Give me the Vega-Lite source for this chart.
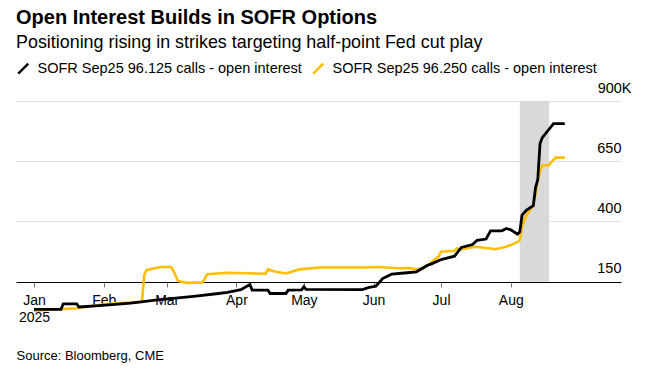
{
  "$schema": "https://vega.github.io/schema/vega-lite/v6.json",
  "width": 605,
  "height": 212,
  "padding": {"left": 16, "top": 8, "right": 5, "bottom": 5},
  "autosize": {"type": "pad"},
  "background": "white",
  "config": {"view": {"stroke": null}, "font": "Liberation Sans"},
  "title": {
    "text": "Open Interest Builds in SOFR Options",
    "subtitle": "Positioning rising in strikes targeting half-point Fed cut play",
    "anchor": "start",
    "frame": "group",
    "font": "Liberation Sans",
    "fontSize": 20,
    "fontWeight": "bold",
    "color": "#000000",
    "subtitleFont": "Liberation Sans",
    "subtitleFontSize": 17.9,
    "subtitleColor": "#000000",
    "subtitlePadding": 6,
    "offset": 9
  },
  "datasets": {
    "shade": [{"start": "2025-08-05", "end": "2025-08-18"}],
    "oi": [
      {"series": "SOFR Sep25 96.250 calls - open interest", "date": "2025-01-01", "value": 30},
      {"series": "SOFR Sep25 96.250 calls - open interest", "date": "2025-01-20", "value": 40},
      {"series": "SOFR Sep25 96.250 calls - open interest", "date": "2025-02-03", "value": 58},
      {"series": "SOFR Sep25 96.250 calls - open interest", "date": "2025-02-18", "value": 66},
      {"series": "SOFR Sep25 96.250 calls - open interest", "date": "2025-02-19", "value": 177},
      {"series": "SOFR Sep25 96.250 calls - open interest", "date": "2025-02-20", "value": 198},
      {"series": "SOFR Sep25 96.250 calls - open interest", "date": "2025-02-24", "value": 207},
      {"series": "SOFR Sep25 96.250 calls - open interest", "date": "2025-02-27", "value": 211},
      {"series": "SOFR Sep25 96.250 calls - open interest", "date": "2025-03-03", "value": 211},
      {"series": "SOFR Sep25 96.250 calls - open interest", "date": "2025-03-04", "value": 195},
      {"series": "SOFR Sep25 96.250 calls - open interest", "date": "2025-03-06", "value": 153},
      {"series": "SOFR Sep25 96.250 calls - open interest", "date": "2025-03-10", "value": 145},
      {"series": "SOFR Sep25 96.250 calls - open interest", "date": "2025-03-17", "value": 147},
      {"series": "SOFR Sep25 96.250 calls - open interest", "date": "2025-03-19", "value": 181},
      {"series": "SOFR Sep25 96.250 calls - open interest", "date": "2025-03-28", "value": 187},
      {"series": "SOFR Sep25 96.250 calls - open interest", "date": "2025-04-14", "value": 183},
      {"series": "SOFR Sep25 96.250 calls - open interest", "date": "2025-04-15", "value": 201},
      {"series": "SOFR Sep25 96.250 calls - open interest", "date": "2025-04-18", "value": 192},
      {"series": "SOFR Sep25 96.250 calls - open interest", "date": "2025-04-23", "value": 184},
      {"series": "SOFR Sep25 96.250 calls - open interest", "date": "2025-04-29", "value": 201},
      {"series": "SOFR Sep25 96.250 calls - open interest", "date": "2025-05-08", "value": 209},
      {"series": "SOFR Sep25 96.250 calls - open interest", "date": "2025-05-13", "value": 209},
      {"series": "SOFR Sep25 96.250 calls - open interest", "date": "2025-05-27", "value": 209},
      {"series": "SOFR Sep25 96.250 calls - open interest", "date": "2025-06-03", "value": 211},
      {"series": "SOFR Sep25 96.250 calls - open interest", "date": "2025-06-12", "value": 206},
      {"series": "SOFR Sep25 96.250 calls - open interest", "date": "2025-06-17", "value": 207},
      {"series": "SOFR Sep25 96.250 calls - open interest", "date": "2025-06-20", "value": 201},
      {"series": "SOFR Sep25 96.250 calls - open interest", "date": "2025-06-23", "value": 205},
      {"series": "SOFR Sep25 96.250 calls - open interest", "date": "2025-06-26", "value": 225},
      {"series": "SOFR Sep25 96.250 calls - open interest", "date": "2025-06-30", "value": 255},
      {"series": "SOFR Sep25 96.250 calls - open interest", "date": "2025-07-01", "value": 274},
      {"series": "SOFR Sep25 96.250 calls - open interest", "date": "2025-07-07", "value": 278},
      {"series": "SOFR Sep25 96.250 calls - open interest", "date": "2025-07-08", "value": 288},
      {"series": "SOFR Sep25 96.250 calls - open interest", "date": "2025-07-10", "value": 284},
      {"series": "SOFR Sep25 96.250 calls - open interest", "date": "2025-07-16", "value": 295},
      {"series": "SOFR Sep25 96.250 calls - open interest", "date": "2025-07-21", "value": 290},
      {"series": "SOFR Sep25 96.250 calls - open interest", "date": "2025-07-25", "value": 285},
      {"series": "SOFR Sep25 96.250 calls - open interest", "date": "2025-07-29", "value": 293},
      {"series": "SOFR Sep25 96.250 calls - open interest", "date": "2025-08-01", "value": 302},
      {"series": "SOFR Sep25 96.250 calls - open interest", "date": "2025-08-04", "value": 315},
      {"series": "SOFR Sep25 96.250 calls - open interest", "date": "2025-08-05", "value": 322},
      {"series": "SOFR Sep25 96.250 calls - open interest", "date": "2025-08-06", "value": 377},
      {"series": "SOFR Sep25 96.250 calls - open interest", "date": "2025-08-07", "value": 405},
      {"series": "SOFR Sep25 96.250 calls - open interest", "date": "2025-08-08", "value": 426},
      {"series": "SOFR Sep25 96.250 calls - open interest", "date": "2025-08-11", "value": 467},
      {"series": "SOFR Sep25 96.250 calls - open interest", "date": "2025-08-12", "value": 515},
      {"series": "SOFR Sep25 96.250 calls - open interest", "date": "2025-08-13", "value": 571},
      {"series": "SOFR Sep25 96.250 calls - open interest", "date": "2025-08-14", "value": 609},
      {"series": "SOFR Sep25 96.250 calls - open interest", "date": "2025-08-15", "value": 633},
      {"series": "SOFR Sep25 96.250 calls - open interest", "date": "2025-08-18", "value": 633},
      {"series": "SOFR Sep25 96.250 calls - open interest", "date": "2025-08-19", "value": 646},
      {"series": "SOFR Sep25 96.250 calls - open interest", "date": "2025-08-21", "value": 665},
      {"series": "SOFR Sep25 96.250 calls - open interest", "date": "2025-08-25", "value": 665},
      {"series": "SOFR Sep25 96.125 calls - open interest", "date": "2025-01-01", "value": 35},
      {"series": "SOFR Sep25 96.125 calls - open interest", "date": "2025-01-13", "value": 35},
      {"series": "SOFR Sep25 96.125 calls - open interest", "date": "2025-01-14", "value": 58},
      {"series": "SOFR Sep25 96.125 calls - open interest", "date": "2025-01-20", "value": 58},
      {"series": "SOFR Sep25 96.125 calls - open interest", "date": "2025-01-21", "value": 45},
      {"series": "SOFR Sep25 96.125 calls - open interest", "date": "2025-01-30", "value": 51},
      {"series": "SOFR Sep25 96.125 calls - open interest", "date": "2025-02-13", "value": 61},
      {"series": "SOFR Sep25 96.125 calls - open interest", "date": "2025-02-24", "value": 73},
      {"series": "SOFR Sep25 96.125 calls - open interest", "date": "2025-03-14", "value": 90},
      {"series": "SOFR Sep25 96.125 calls - open interest", "date": "2025-03-24", "value": 101},
      {"series": "SOFR Sep25 96.125 calls - open interest", "date": "2025-03-28", "value": 106},
      {"series": "SOFR Sep25 96.125 calls - open interest", "date": "2025-04-03", "value": 117},
      {"series": "SOFR Sep25 96.125 calls - open interest", "date": "2025-04-07", "value": 138},
      {"series": "SOFR Sep25 96.125 calls - open interest", "date": "2025-04-08", "value": 115},
      {"series": "SOFR Sep25 96.125 calls - open interest", "date": "2025-04-15", "value": 115},
      {"series": "SOFR Sep25 96.125 calls - open interest", "date": "2025-04-16", "value": 101},
      {"series": "SOFR Sep25 96.125 calls - open interest", "date": "2025-04-23", "value": 101},
      {"series": "SOFR Sep25 96.125 calls - open interest", "date": "2025-04-24", "value": 115},
      {"series": "SOFR Sep25 96.125 calls - open interest", "date": "2025-04-30", "value": 116},
      {"series": "SOFR Sep25 96.125 calls - open interest", "date": "2025-05-01", "value": 129},
      {"series": "SOFR Sep25 96.125 calls - open interest", "date": "2025-05-02", "value": 118},
      {"series": "SOFR Sep25 96.125 calls - open interest", "date": "2025-05-27", "value": 117},
      {"series": "SOFR Sep25 96.125 calls - open interest", "date": "2025-05-30", "value": 126},
      {"series": "SOFR Sep25 96.125 calls - open interest", "date": "2025-06-02", "value": 131},
      {"series": "SOFR Sep25 96.125 calls - open interest", "date": "2025-06-05", "value": 163},
      {"series": "SOFR Sep25 96.125 calls - open interest", "date": "2025-06-09", "value": 181},
      {"series": "SOFR Sep25 96.125 calls - open interest", "date": "2025-06-16", "value": 187},
      {"series": "SOFR Sep25 96.125 calls - open interest", "date": "2025-06-20", "value": 191},
      {"series": "SOFR Sep25 96.125 calls - open interest", "date": "2025-06-25", "value": 218},
      {"series": "SOFR Sep25 96.125 calls - open interest", "date": "2025-06-27", "value": 225},
      {"series": "SOFR Sep25 96.125 calls - open interest", "date": "2025-07-01", "value": 242},
      {"series": "SOFR Sep25 96.125 calls - open interest", "date": "2025-07-07", "value": 256},
      {"series": "SOFR Sep25 96.125 calls - open interest", "date": "2025-07-10", "value": 292},
      {"series": "SOFR Sep25 96.125 calls - open interest", "date": "2025-07-15", "value": 304},
      {"series": "SOFR Sep25 96.125 calls - open interest", "date": "2025-07-17", "value": 322},
      {"series": "SOFR Sep25 96.125 calls - open interest", "date": "2025-07-21", "value": 327},
      {"series": "SOFR Sep25 96.125 calls - open interest", "date": "2025-07-23", "value": 361},
      {"series": "SOFR Sep25 96.125 calls - open interest", "date": "2025-07-28", "value": 361},
      {"series": "SOFR Sep25 96.125 calls - open interest", "date": "2025-07-30", "value": 371},
      {"series": "SOFR Sep25 96.125 calls - open interest", "date": "2025-08-01", "value": 365},
      {"series": "SOFR Sep25 96.125 calls - open interest", "date": "2025-08-04", "value": 347},
      {"series": "SOFR Sep25 96.125 calls - open interest", "date": "2025-08-05", "value": 357},
      {"series": "SOFR Sep25 96.125 calls - open interest", "date": "2025-08-06", "value": 426},
      {"series": "SOFR Sep25 96.125 calls - open interest", "date": "2025-08-08", "value": 447},
      {"series": "SOFR Sep25 96.125 calls - open interest", "date": "2025-08-11", "value": 465},
      {"series": "SOFR Sep25 96.125 calls - open interest", "date": "2025-08-12", "value": 540},
      {"series": "SOFR Sep25 96.125 calls - open interest", "date": "2025-08-13", "value": 575},
      {"series": "SOFR Sep25 96.125 calls - open interest", "date": "2025-08-14", "value": 723},
      {"series": "SOFR Sep25 96.125 calls - open interest", "date": "2025-08-15", "value": 748},
      {"series": "SOFR Sep25 96.125 calls - open interest", "date": "2025-08-20", "value": 806},
      {"series": "SOFR Sep25 96.125 calls - open interest", "date": "2025-08-25", "value": 806}
    ]
  },
  "layer": [
    {
      "data": {"name": "shade"},
      "mark": {"type": "rect", "fill": "#d9d9d9", "opacity": 1},
      "encoding": {
        "x": {"field": "start", "type": "temporal"},
        "x2": {"field": "end"},
        "y": {"datum": 900, "type": "quantitative"},
        "y2": {"datum": 150}
      }
    },
    {
      "data": {"name": "oi"},
      "transform": [{"filter": "datum.series == 'SOFR Sep25 96.250 calls - open interest'"}],
      "mark": {"type": "line", "strokeWidth": 2.6, "interpolate": "linear"},
      "encoding": {
        "x": {"field": "date", "type": "temporal"},
        "y": {"field": "value", "type": "quantitative"},
        "color": {
          "field": "series",
          "type": "nominal",
          "scale": {"domain": ["SOFR Sep25 96.125 calls - open interest", "SOFR Sep25 96.250 calls - open interest"], "range": ["#000000", "#FFBE00"]},
          "legend": {
            "orient": "top",
            "direction": "horizontal",
            "title": null,
            "symbolType": "M-1,1L1,-1",
            "symbolSize": 100,
            "symbolStrokeWidth": 2.5,
            "labelFont": "Liberation Sans",
            "labelFontSize": 14.5,
            "labelColor": "#000000",
            "labelLimit": 400,
            "labelOffset": 7,
            "columnPadding": 6,
            "offset": 22.5,
            "padding": 0
          }
        }
      }
    },
    {
      "data": {"name": "oi"},
      "transform": [{"filter": "datum.series == 'SOFR Sep25 96.125 calls - open interest'"}],
      "mark": {"type": "line", "strokeWidth": 2.8, "interpolate": "linear"},
      "encoding": {
        "x": {
          "field": "date",
          "type": "temporal",
          "scale": {"type": "utc", "domain": ["2024-12-24", "2025-09-19"]},
          "axis": {
            "values": ["2025-01-01", "2025-02-01", "2025-03-01", "2025-04-01", "2025-05-01", "2025-06-01", "2025-07-01", "2025-08-01"],
            "offset": -31,
            "grid": false,
            "domain": true,
            "domainColor": "#000000",
            "domainWidth": 1,
            "ticks": true,
            "tickColor": "#777777",
            "tickSize": 5,
            "labelFont": "Liberation Sans",
            "labelFontSize": 14,
            "labelColor": "#000000",
            "labelPadding": 6,
            "labelLineHeight": 17,
            "labelFlush": false,
            "labelOverlap": false,
            "labelExpr": "utcFormat(datum.value, '%b') == 'Jan' ? ['Jan', '2025'] : utcFormat(datum.value, '%b')",
            "title": "Source: Bloomberg, CME",
            "titleAnchor": "start",
            "titleAlign": "left",
            "titleFont": "Liberation Sans",
            "titleFontSize": 13,
            "titleFontWeight": "normal",
            "titleColor": "#000000",
            "titlePadding": 25
          }
        },
        "y": {
          "field": "value",
          "type": "quantitative",
          "scale": {"domain": [20, 900], "nice": false, "zero": false},
          "axis": {
            "orient": "right",
            "values": [150, 400, 650, 900],
            "grid": true,
            "gridColor": "#e0e0e0",
            "gridWidth": 1,
            "domain": false,
            "ticks": false,
            "tickSize": 0,
            "labelAlign": "right",
            "labelBaseline": "alphabetic",
            "labelOffset": -9,
            "labelPadding": {"condition": {"test": "datum.value == 900", "value": 10}, "value": 0},
            "labelExpr": "datum.value == 900 ? '900K' : datum.label",
            "labelFont": "Liberation Sans",
            "labelFontSize": 14.5,
            "labelColor": "#000000",
            "title": null
          }
        },
        "color": {"field": "series", "type": "nominal"}
      }
    }
  ]
}
